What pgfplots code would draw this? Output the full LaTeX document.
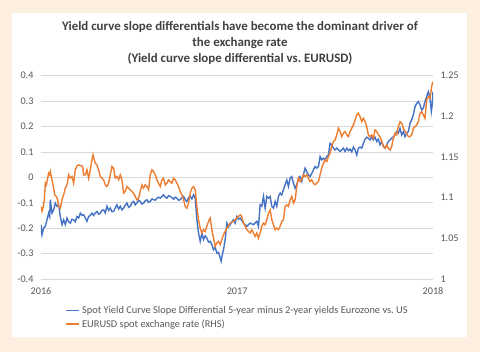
\documentclass[border=0pt]{standalone}
\usepackage{fontspec}
\setmainfont{Carlito}
\usepackage{pgfplots}
\pgfplotsset{compat=1.18}
\definecolor{bgpeach}{HTML}{FDF0E1}
\definecolor{gridgray}{HTML}{D9D9D9}
\definecolor{txtgray}{HTML}{595959}
\definecolor{titlegray}{HTML}{404040}
\definecolor{xlblue}{HTML}{4472C4}
\definecolor{xlorange}{HTML}{ED7D31}
\begin{document}
\begin{tikzpicture}
\fill[bgpeach] (0pt,0pt) rectangle (480pt,352pt);
\fill[white] (12pt,15pt) rectangle (467pt,339pt);
\node[align=center, font=\bfseries\fontsize{12.9}{16}\selectfont, text=titlegray] at (240pt,309pt) {Yield curve slope differentials have become the dominant driver of\\the exchange rate\\(Yield curve slope differential vs.\ EURUSD)};
\begin{axis}[
  at={(41pt,73pt)}, anchor=south west, scale only axis,
  width=392pt, height=203.3pt,
  xmin=122, xmax=1299, ymin=-0.4, ymax=0.4,
  xtick={122,711,1299}, xticklabels={2016,2017,2018},
  ytick={-0.4,-0.3,-0.2,-0.1,0,0.1,0.2,0.3,0.4},
  yticklabel style={/pgf/number format/fixed,/pgf/number format/precision=1},
  /pgf/number format/assume math mode=true,
  axis line style={draw=none}, major tick length=0pt,
  ymajorgrids, grid style={gridgray, line width=0.75pt},
  tick label style={font=\fontsize{10.2}{12}\selectfont, text=txtgray},
  yticklabel style={xshift=-4pt},
  xticklabel style={yshift=-5pt},
  legend cell align=left,
  legend style={at={(0.062,-0.122)}, anchor=north west, draw=none, fill=none,
    font=\fontsize{10.4}{12}\selectfont, text=txtgray, row sep=1pt, inner sep=0pt},
  legend image code/.code={\draw[#1, line width=1.6pt] (0pt,0pt) -- (13pt,0pt);},
]
\addlegendimage{xlblue}
\addlegendentry{Spot Yield Curve Slope Differential 5-year minus 2-year yields Eurozone vs.\ US}
\addlegendimage{xlorange}
\addlegendentry{EURUSD spot exchange rate (RHS)}
\addplot[xlblue, line width=1.4pt, forget plot] coordinates {
(122,-0.186)(125,-0.226)(130,-0.199)(135,-0.193)(140,-0.167)(145,-0.141)(148,-0.154)(150,-0.088)(155,-0.141)(160,-0.128)(165,-0.101)(170,-0.114)(175,-0.108)(180,-0.154)(185,-0.186)(190,-0.167)(195,-0.186)(200,-0.160)(205,-0.175)(210,-0.180)(215,-0.165)(220,-0.167)(225,-0.175)(230,-0.154)(235,-0.160)(240,-0.141)(245,-0.150)(250,-0.147)(255,-0.160)(260,-0.173)(265,-0.154)(270,-0.150)(275,-0.141)(280,-0.150)(285,-0.140)(290,-0.134)(295,-0.145)(300,-0.141)(305,-0.130)(310,-0.128)(315,-0.140)(320,-0.114)(325,-0.130)(330,-0.121)(335,-0.135)(340,-0.134)(345,-0.120)(350,-0.108)(355,-0.125)(360,-0.114)(365,-0.128)(370,-0.121)(375,-0.110)(380,-0.101)(385,-0.118)(390,-0.114)(395,-0.100)(400,-0.095)(405,-0.108)(410,-0.101)(415,-0.090)(420,-0.095)(425,-0.105)(430,-0.101)(435,-0.092)(440,-0.088)(445,-0.098)(450,-0.095)(455,-0.085)(460,-0.088)(465,-0.090)(470,-0.082)(475,-0.078)(480,-0.082)(485,-0.075)(490,-0.069)(495,-0.078)(500,-0.082)(505,-0.072)(510,-0.075)(515,-0.080)(520,-0.086)(525,-0.078)(530,-0.082)(535,-0.090)(540,-0.088)(545,-0.080)(550,-0.075)(555,-0.088)(560,-0.095)(565,-0.080)(570,-0.075)(575,-0.085)(580,-0.069)(585,-0.082)(590,-0.167)(595,-0.219)(600,-0.252)(605,-0.219)(610,-0.245)(615,-0.230)(620,-0.239)(625,-0.255)(630,-0.252)(635,-0.265)(640,-0.285)(645,-0.275)(650,-0.298)(655,-0.295)(660,-0.317)(663,-0.330)(667,-0.300)(670,-0.285)(675,-0.245)(680,-0.180)(685,-0.195)(690,-0.186)(695,-0.175)(700,-0.167)(705,-0.180)(710,-0.154)(715,-0.165)(720,-0.160)
(730,-0.180)(740,-0.193)(750,-0.180)(760,-0.186)(770,-0.173)(775,-0.193)(780,-0.108)(785,-0.114)(790,-0.075)(795,-0.121)(800,-0.075)(805,-0.082)(810,-0.075)(815,-0.114)(820,-0.121)(825,-0.095)(830,-0.114)(835,-0.075)(840,-0.062)(845,-0.069)(850,-0.049)(855,-0.029)(860,-0.010)(865,-0.036)(870,-0.003)(875,0.003)(880,-0.023)(885,-0.043)(890,-0.029)(895,-0.003)(900,0.003)(905,-0.016)(910,0.010)(915,0.036)(920,0.023)(925,0.010)(930,0.003)(935,0.016)(940,0.029)(945,0.043)(950,0.036)(955,0.043)(960,0.082)(965,0.069)(970,0.075)(975,0.069)(980,0.082)(985,0.088)(990,0.134)(995,0.128)(1000,0.115)(1005,0.108)(1010,0.115)(1015,0.108)(1020,0.102)(1025,0.108)(1030,0.115)(1035,0.102)(1040,0.115)(1045,0.105)(1050,0.111)(1055,0.100)(1060,0.119)(1065,0.108)(1070,0.088)(1075,0.115)(1080,0.119)(1085,0.115)(1090,0.134)(1095,0.150)(1100,0.158)(1105,0.154)(1110,0.147)(1115,0.160)(1120,0.147)(1125,0.158)(1130,0.141)(1135,0.150)(1140,0.128)(1145,0.141)(1150,0.121)(1155,0.115)(1160,0.128)(1165,0.141)(1170,0.147)(1175,0.154)(1180,0.160)(1185,0.167)(1190,0.180)(1195,0.174)(1200,0.193)(1205,0.167)(1210,0.180)(1215,0.160)(1220,0.174)(1225,0.180)(1230,0.213)(1235,0.226)(1240,0.246)(1245,0.278)(1250,0.291)(1255,0.298)(1260,0.285)(1265,0.265)(1270,0.272)(1275,0.298)(1280,0.318)(1285,0.337)(1290,0.311)(1294,0.259)(1296,0.278)(1299,0.337)
};
\end{axis}
\begin{axis}[
  at={(41pt,73pt)}, anchor=south west, scale only axis,
  width=392pt, height=203.3pt,
  xmin=122, xmax=1299, ymin=1, ymax=1.25,
  axis y line*=right, hide x axis,
  ytick={1,1.05,1.1,1.15,1.2,1.25},
  yticklabel style={/pgf/number format/fixed,/pgf/number format/precision=2, xshift=4pt},
  /pgf/number format/assume math mode=true,
  axis line style={draw=none}, major tick length=0pt,
  tick label style={font=\fontsize{10.2}{12}\selectfont, text=txtgray},
]
\addplot[xlorange, line width=1.4pt] coordinates {
(122,1.0892)(125,1.0831)(128,1.0871)(132,1.0974)(135,1.1178)(138,1.1158)(140,1.1199)(145,1.1301)(148,1.1281)(150,1.1322)(155,1.1219)(160,1.1117)(163,1.1035)(168,1.1015)(172,1.0974)(175,1.0892)(180,1.0871)(185,1.0974)(190,1.1035)(195,1.1117)(200,1.1158)(205,1.1281)(210,1.1240)(215,1.1260)(220,1.1178)(225,1.1342)(230,1.1391)(235,1.1403)(240,1.1395)(245,1.1391)(248,1.1363)(250,1.1281)(255,1.1281)(260,1.1342)(265,1.1240)(270,1.1342)(275,1.1465)(278,1.1526)(282,1.1465)(285,1.1424)(290,1.1403)(295,1.1342)(300,1.1260)(305,1.1240)(310,1.1219)(315,1.1158)(320,1.1137)(325,1.1178)(330,1.1281)(335,1.1383)(340,1.1363)(345,1.1240)(350,1.1260)(355,1.1219)(360,1.1281)(365,1.1219)(370,1.1056)(375,1.1076)(380,1.1137)(385,1.1117)(390,1.1097)(395,1.1076)(400,1.1056)(405,1.1015)(410,1.0974)(415,1.0994)(420,1.1076)(425,1.1158)(430,1.1117)(435,1.1158)(440,1.1137)(445,1.1097)(450,1.1281)(455,1.1342)(460,1.1322)(465,1.1281)(470,1.1219)(475,1.1178)(480,1.1137)(485,1.1219)(490,1.1240)(495,1.1158)(500,1.1178)(505,1.1219)(510,1.1199)(515,1.1178)(520,1.1240)(525,1.1219)(530,1.1178)(535,1.1137)(540,1.1076)(545,1.1035)(550,1.0974)(555,1.0892)(560,1.0871)(565,1.0933)(570,1.1056)(575,1.1117)(580,1.1137)(585,1.1097)(590,1.0892)(595,1.0728)(600,1.0626)(605,1.0565)(610,1.0606)(615,1.0585)(620,1.0647)(625,1.0708)(630,1.0749)(635,1.0606)(640,1.0503)(645,1.0401)(650,1.0442)(655,1.0463)(660,1.0421)(665,1.0483)(670,1.0544)(675,1.0585)(680,1.0626)(690,1.0687)(700,1.0708)(710,1.0749)(720,1.0789)
(725,1.0769)(730,1.0687)(735,1.0647)(740,1.0606)(745,1.0585)(750,1.0565)(755,1.0606)(760,1.0565)(765,1.0524)(770,1.0565)(775,1.0503)(780,1.0565)(785,1.0647)(790,1.0687)(795,1.0667)(800,1.0728)(805,1.0810)(810,1.0851)(815,1.0728)(820,1.0667)(825,1.0606)(830,1.0626)(835,1.0606)(840,1.0647)(845,1.0708)(850,1.0728)(855,1.0892)(860,1.0912)(865,1.0892)(870,1.0974)(875,1.1015)(880,1.0933)(885,1.0974)(890,1.1137)(895,1.1240)(900,1.1199)(905,1.1219)(910,1.1281)(915,1.1260)(920,1.1281)(925,1.1240)(930,1.1199)(935,1.1219)(940,1.1178)(945,1.1158)(950,1.1178)(955,1.1199)(960,1.1281)(965,1.1363)(970,1.1424)(975,1.1465)(980,1.1444)(985,1.1506)(990,1.1547)(995,1.1629)(1000,1.1690)(1005,1.1710)(1010,1.1772)(1015,1.1854)(1020,1.1813)(1025,1.1751)(1030,1.1792)(1035,1.1813)(1040,1.1772)(1045,1.1751)(1050,1.1813)(1055,1.1854)(1060,1.1895)(1065,1.1956)(1070,1.2017)(1075,1.2038)(1080,1.1997)(1085,1.1935)(1090,1.1976)(1095,1.1935)(1100,1.1874)(1105,1.1772)(1110,1.1751)(1115,1.1772)(1120,1.1731)(1125,1.1833)(1130,1.1813)(1135,1.1772)(1140,1.1751)(1145,1.1690)(1150,1.1629)(1155,1.1608)(1160,1.1649)(1165,1.1608)(1170,1.1587)(1175,1.1629)(1180,1.1731)(1185,1.1792)(1190,1.1772)(1195,1.1874)(1200,1.1935)(1205,1.1915)(1210,1.1854)(1215,1.1813)(1220,1.1792)(1225,1.1751)(1230,1.1751)(1235,1.1772)(1240,1.1854)(1245,1.1874)(1250,1.1895)(1255,1.1935)(1260,1.2038)(1265,1.2058)(1270,1.2017)(1275,1.1976)(1280,1.2201)(1285,1.2242)(1290,1.2222)(1295,1.2365)(1297,1.2406)(1299,1.2426)
};
\end{axis}
\end{tikzpicture}
\end{document}
